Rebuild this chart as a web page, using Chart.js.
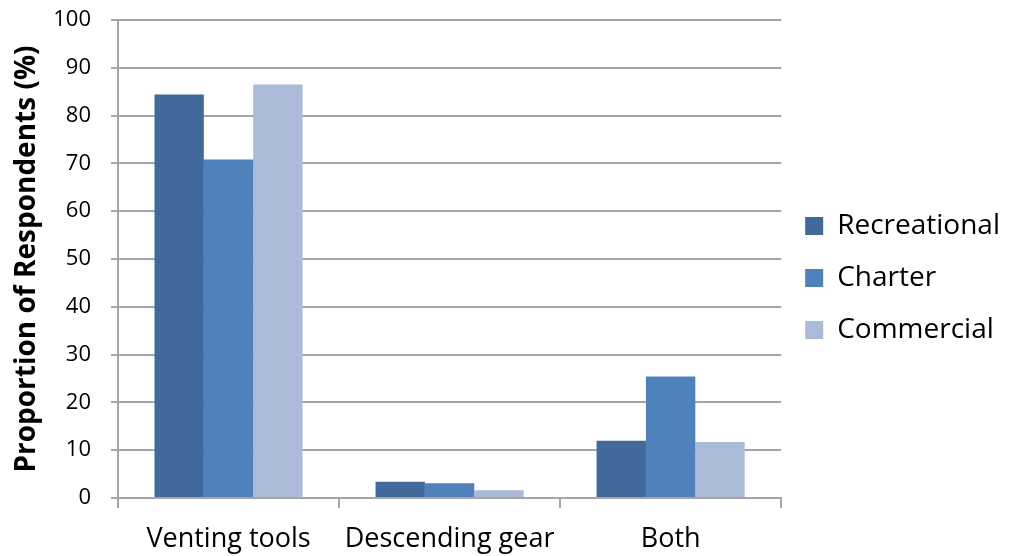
<!DOCTYPE html>
<html>
<head>
<meta charset="utf-8">
<script src="https://cdn.jsdelivr.net/npm/chart.js@4"></script>
<style>
  html, body { margin: 0; padding: 0; background: #fff; }
  #wrap { width: 1012px; height: 556px; position: relative; }
</style>
</head>
<body>
<div id="wrap"><canvas id="bar-chart"></canvas></div>
<script>
// categories and series
var categories = ["Venting tools", "Descending gear", "Both"];
var recreational = [84.4, 3.4, 12.0];
var charter = [70.8, 3.1, 25.4];
var commercial = [86.5, 1.6, 11.7];
var yTicks = [0, 10, 20, 30, 40, 50, 60, 70, 80, 90, 100];

var gridGray = '#a6a6a6';
var font = 'Open Sans';

new Chart(document.getElementById("bar-chart"), {
  type: 'bar',
  data: {
    labels: categories,
    datasets: [
      { label: "Recreational", backgroundColor: '#41699b', data: recreational },
      { label: "Charter", backgroundColor: '#4f81bd', data: charter },
      { label: "Commercial", backgroundColor: '#aabad8', data: commercial }
    ]
  },
  options: {
    responsive: true,
    maintainAspectRatio: false,
    animation: false,
    categoryPercentage: 0.67,
    barPercentage: 1.0,
    layout: { padding: { top: 0, right: 2, left: 0, bottom: 0 } },
    plugins: {
      tooltip: { enabled: false },
      legend: {
        position: 'right',
        align: 'center',
        labels: {
          color: '#000',
          font: { family: font, size: 28 },
          boxWidth: 18,
          boxHeight: 18,
          padding: 24
        }
      }
    },
    scales: {
      x: {
        grid: { drawOnChartArea: false, offset: true, tickLength: 10, color: gridGray, lineWidth: 2 },
        border: { color: gridGray, width: 2 },
        ticks: { color: '#000', font: { family: font, size: 27 }, padding: 15, maxRotation: 0, autoSkip: false },
        afterFit: function (scale) { scale.height = 58; }
      },
      y: {
        min: 0,
        max: 100,
        afterBuildTicks: function (scale) {
          scale.ticks = yTicks.map(function (v) { return { value: v }; });
        },
        grid: { color: gridGray, lineWidth: 2, tickLength: 7 },
        border: { color: gridGray, width: 2 },
        ticks: { color: '#000', font: { family: font, size: 22 }, padding: 20 },
        title: {
          display: true,
          text: 'Proportion of Respondents (%)',
          color: '#000',
          font: { family: font, size: 28, weight: 'bold' },
          padding: { top: 10, bottom: 4 }
        },
        afterFit: function (scale) {
          scale.width = 118;
          scale.paddingTop = 20;
          scale.paddingBottom = 0;
        }
      }
    }
  }
});
</script>
</body>
</html>
